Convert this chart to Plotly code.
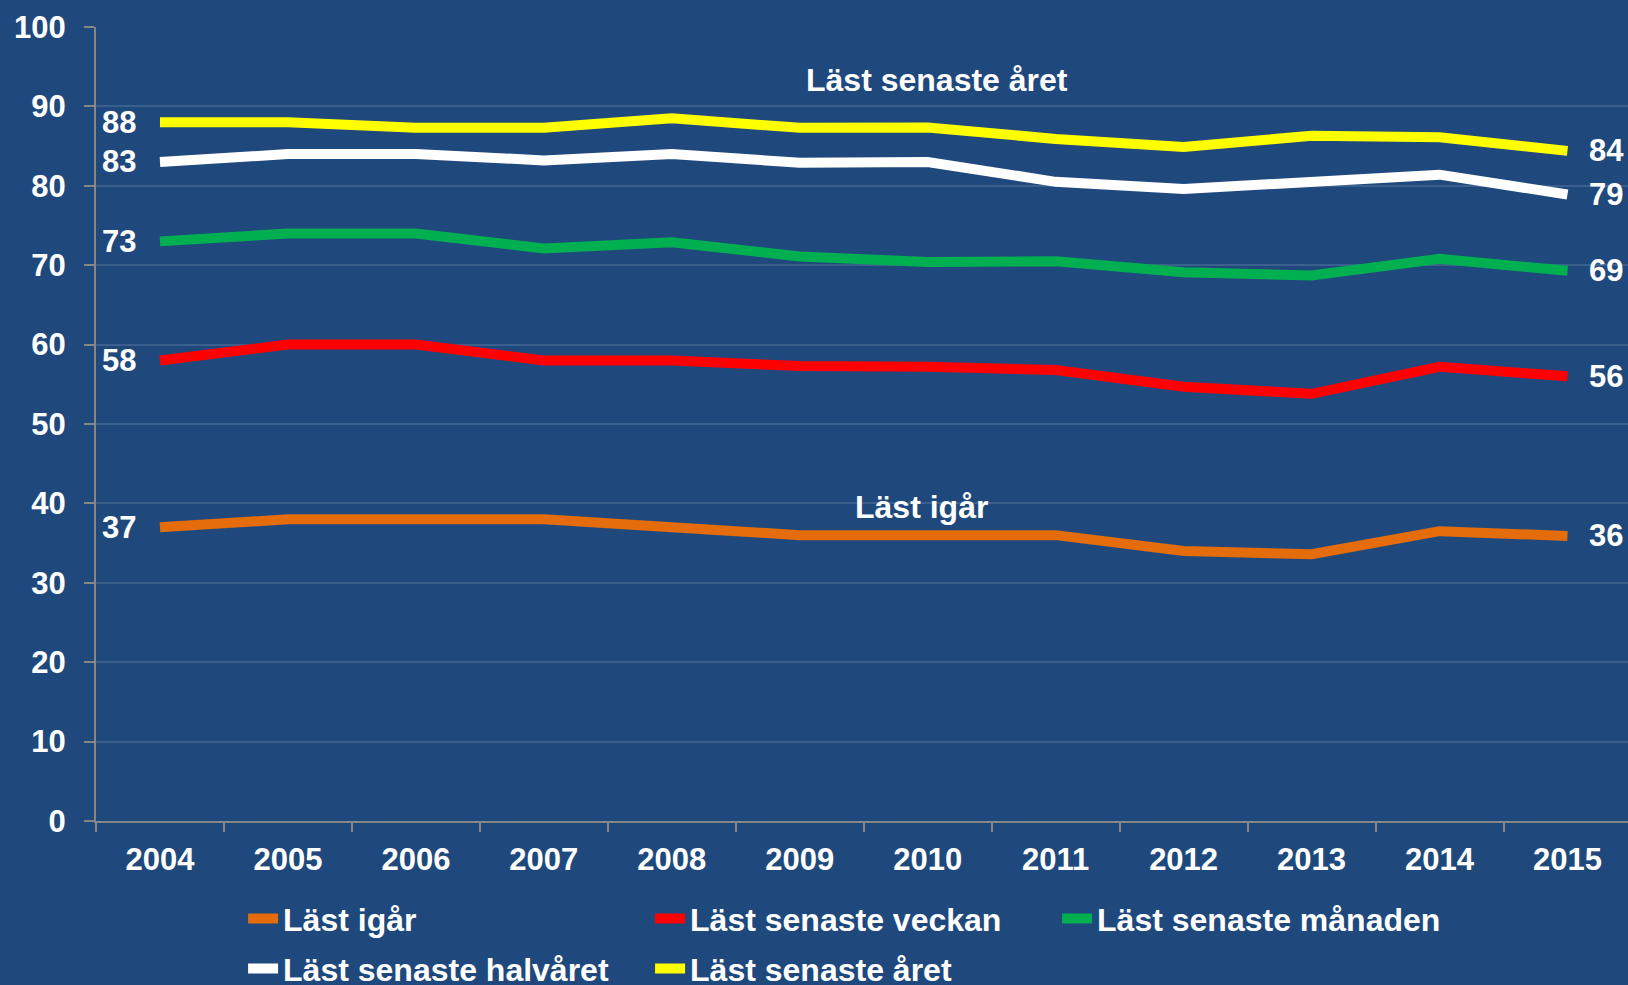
import plotly.graph_objects as go

years = ["2004", "2005", "2006", "2007", "2008", "2009", "2010", "2011", "2012", "2013", "2014", "2015"]

last_igar = [37, 38, 38, 38, 37, 36, 36, 36, 34, 33.6, 36.5, 35.9]
last_veckan = [58, 60, 60, 58, 58, 57.3, 57.2, 56.8, 54.7, 53.8, 57.2, 56]
last_manaden = [73, 74, 74, 72.1, 72.9, 71.1, 70.4, 70.5, 69.1, 68.7, 70.8, 69.3]
last_halvaret = [83, 84, 84, 83.2, 84, 82.9, 83, 80.5, 79.6, 80.6, 81.4, 78.9]
last_aret = [88, 88, 87.3, 87.3, 88.5, 87.3, 87.35, 85.9, 84.9, 86.3, 86.1, 84.4]

series_names = ["Läst igår", "Läst senaste veckan", "Läst senaste månaden",
                "Läst senaste halvåret", "Läst senaste året"]
series_values = [last_igar, last_veckan, last_manaden, last_halvaret, last_aret]
series_colors = ["#E46C0A", "#FF0000", "#00B050", "#FFFFFF", "#FFFF00"]
series_legend = ["legend", "legend", "legend", "legend2", "legend2"]

y_ticks = [0, 10, 20, 30, 40, 50, 60, 70, 80, 90, 100]

BG = "#1F497D"
FONT = "Liberation Sans, Arial, sans-serif"
FS = 31
FS_TXT = 32

fig = go.Figure()
for name, vals, col, lg in zip(series_names, series_values, series_colors, series_legend):
    fig.add_trace(go.Scatter(
        x=years, y=vals, name=name, mode="lines",
        line=dict(color=col, width=10),
        legend=lg,
    ))

first_idx = 0
last_idx = len(years) - 1
annotations = []
for vals in series_values:
    annotations.append(dict(
        x=first_idx, y=vals[0], text=str(int(round(vals[0]))), showarrow=False,
        xanchor="right", yanchor="middle", xshift=-22,
        font=dict(family=FONT, size=FS, color="white", weight="bold")))
    annotations.append(dict(
        x=last_idx, y=vals[-1], text=str(int(round(vals[-1]))), showarrow=False,
        xanchor="left", yanchor="middle", xshift=20,
        font=dict(family=FONT, size=FS, color="white", weight="bold")))

annotations.append(dict(x=6.07, y=93.3, text="Läst senaste året", showarrow=False,
                        xanchor="center", yanchor="middle",
                        font=dict(family=FONT, size=FS_TXT, color="white", weight="bold")))
annotations.append(dict(x=5.95, y=39.6, text="Läst igår", showarrow=False,
                        xanchor="center", yanchor="middle",
                        font=dict(family=FONT, size=FS_TXT, color="white", weight="bold")))

legend_common = dict(
    orientation="h", xanchor="left", yanchor="middle",
    font=dict(family=FONT, size=FS_TXT, color="white", weight="bold"),
    bgcolor="rgba(0,0,0,0)", entrywidth=362, entrywidthmode="pixels",
    itemclick=False, itemdoubleclick=False,
)

fig.update_layout(
    width=1628, height=985,
    paper_bgcolor=BG, plot_bgcolor=BG,
    margin=dict(l=95.5, r=0, t=27, b=164, autoexpand=False),
    showlegend=True,
    legend=dict(x=0.096, y=-0.123, **legend_common),
    legend2=dict(x=0.096, y=-0.186, **legend_common),
    annotations=annotations,
    xaxis=dict(
        type="category", range=[-0.5, 11.473],
        showgrid=False, showline=True, linecolor="#868686", linewidth=2,
        ticks="outside", tickson="boundaries", ticklen=9, tickcolor="#868686", tickwidth=2,
        tickfont=dict(family=FONT, size=FS, color="white", weight="bold"),
        ticklabelstandoff=10, zeroline=False,
    ),
    yaxis=dict(
        range=[0, 100], tickvals=y_ticks, ticktext=[str(v) for v in y_ticks],
        showgrid=True, gridcolor="rgba(255,255,255,0.13)", gridwidth=2,
        showline=True, linecolor="#868686", linewidth=2,
        ticks="outside", ticklen=10, tickcolor="#868686", tickwidth=2,
        tickfont=dict(family=FONT, size=FS, color="white", weight="bold"),
        ticklabelstandoff=12, zeroline=False,
    ),
)

fig.write_html("out.html", config={"displayModeBar": False},
               post_script="document.body.style.margin='0';document.body.style.background='" + BG + "';")
